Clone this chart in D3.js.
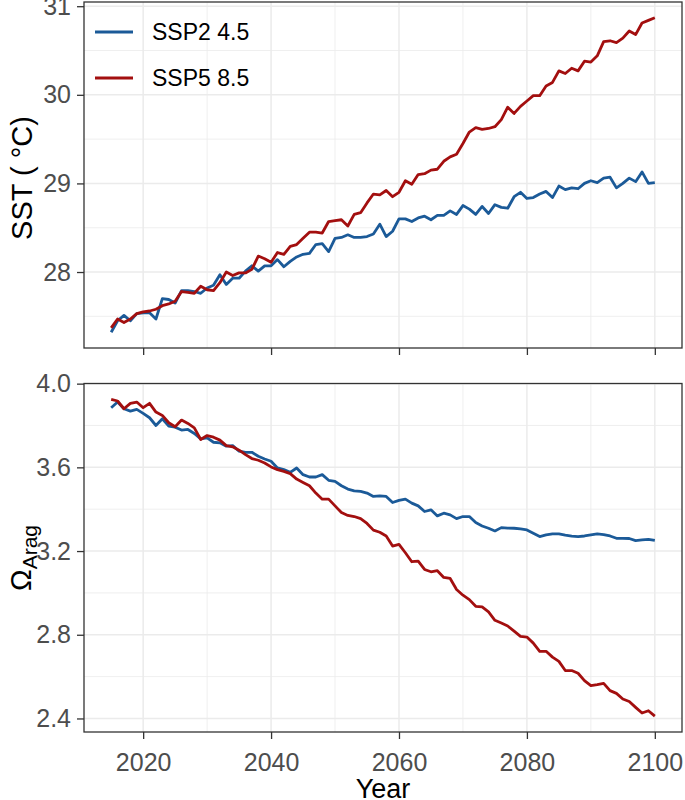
<!DOCTYPE html>
<html>
<head>
<meta charset="utf-8">
<script src="https://cdn.jsdelivr.net/npm/d3@7"></script>
<style>
  body { margin: 0; background: #fff; }
  svg text { font-family: "Liberation Sans", Arial, sans-serif; }
</style>
</head>
<body>
<div class="chart"></div>
<script>
var years = [2015, 2016, 2017, 2018, 2019, 2020, 2021, 2022, 2023, 2024,
  2025, 2026, 2027, 2028, 2029, 2030, 2031, 2032, 2033, 2034,
  2035, 2036, 2037, 2038, 2039, 2040, 2041, 2042, 2043, 2044,
  2045, 2046, 2047, 2048, 2049, 2050, 2051, 2052, 2053, 2054,
  2055, 2056, 2057, 2058, 2059, 2060, 2061, 2062, 2063, 2064,
  2065, 2066, 2067, 2068, 2069, 2070, 2071, 2072, 2073, 2074,
  2075, 2076, 2077, 2078, 2079, 2080, 2081, 2082, 2083, 2084,
  2085, 2086, 2087, 2088, 2089, 2090, 2091, 2092, 2093, 2094,
  2095, 2096, 2097, 2098, 2099, 2100];

var scenarios = ['SSP2 4.5', 'SSP5 8.5'];
var colors = ['#1b5a98', '#a30f0f'];

// sea surface temperature (deg C)
var sstSsp245 = [27.32, 27.45, 27.51, 27.45, 27.53, 27.54, 27.54, 27.47, 27.70, 27.69,
  27.65, 27.79, 27.79, 27.78, 27.76, 27.82, 27.85, 27.97, 27.86, 27.93,
  27.93, 28.01, 28.07, 28.01, 28.07, 28.07, 28.14, 28.06, 28.12, 28.17,
  28.20, 28.21, 28.31, 28.32, 28.23, 28.38, 28.39, 28.42, 28.39, 28.39,
  28.40, 28.43, 28.54, 28.40, 28.46, 28.60, 28.60, 28.57, 28.61, 28.63,
  28.59, 28.64, 28.64, 28.69, 28.65, 28.75, 28.71, 28.65, 28.74, 28.66,
  28.76, 28.73, 28.72, 28.85, 28.90, 28.83, 28.84, 28.88, 28.91, 28.84,
  28.97, 28.93, 28.95, 28.94, 29.00, 29.03, 29.01, 29.06, 29.07, 28.95,
  29.00, 29.06, 29.02, 29.13, 29.00, 29.01];
var sstSsp585 = [27.37, 27.47, 27.43, 27.47, 27.53, 27.55, 27.56, 27.58, 27.62, 27.64,
  27.67, 27.78, 27.77, 27.76, 27.84, 27.80, 27.79, 27.88, 28.00, 27.96,
  27.99, 27.99, 28.03, 28.18, 28.15, 28.11, 28.22, 28.20, 28.29, 28.31,
  28.38, 28.45, 28.45, 28.44, 28.57, 28.58, 28.59, 28.52, 28.65, 28.67,
  28.78, 28.88, 28.87, 28.92, 28.85, 28.90, 29.03, 28.99, 29.10, 29.11,
  29.15, 29.16, 29.25, 29.30, 29.33, 29.45, 29.58, 29.63, 29.61, 29.62,
  29.64, 29.72, 29.86, 29.79, 29.87, 29.93, 29.99, 29.99, 30.10, 30.14,
  30.27, 30.24, 30.30, 30.27, 30.38, 30.37, 30.44, 30.60, 30.61, 30.59,
  30.64, 30.72, 30.68, 30.81, 30.84, 30.87];

// aragonite saturation state
var omegaSsp245 = [3.885, 3.912, 3.880, 3.869, 3.877, 3.858, 3.837, 3.800, 3.832, 3.797,
  3.792, 3.778, 3.781, 3.762, 3.736, 3.741, 3.720, 3.717, 3.701, 3.704,
  3.677, 3.672, 3.672, 3.653, 3.640, 3.629, 3.597, 3.589, 3.576, 3.597,
  3.565, 3.554, 3.554, 3.565, 3.538, 3.533, 3.512, 3.496, 3.488, 3.485,
  3.477, 3.461, 3.464, 3.461, 3.432, 3.442, 3.448, 3.429, 3.416, 3.389,
  3.397, 3.368, 3.381, 3.373, 3.355, 3.365, 3.365, 3.336, 3.320, 3.309,
  3.296, 3.312, 3.310, 3.309, 3.306, 3.301, 3.285, 3.269, 3.277, 3.282,
  3.282, 3.276, 3.271, 3.269, 3.272, 3.277, 3.282, 3.279, 3.272, 3.261,
  3.261, 3.260, 3.250, 3.253, 3.256, 3.251];
var omegaSsp585 = [3.925, 3.917, 3.880, 3.906, 3.912, 3.885, 3.906, 3.864, 3.848, 3.813,
  3.794, 3.826, 3.810, 3.789, 3.733, 3.752, 3.744, 3.730, 3.704, 3.698,
  3.682, 3.661, 3.642, 3.634, 3.621, 3.602, 3.589, 3.581, 3.570, 3.544,
  3.528, 3.512, 3.477, 3.448, 3.448, 3.416, 3.384, 3.370, 3.365, 3.355,
  3.332, 3.300, 3.290, 3.272, 3.224, 3.232, 3.192, 3.149, 3.152, 3.112,
  3.101, 3.106, 3.074, 3.069, 3.016, 2.989, 2.968, 2.936, 2.933, 2.909,
  2.869, 2.856, 2.842, 2.817, 2.792, 2.789, 2.760, 2.721, 2.721, 2.693,
  2.673, 2.629, 2.629, 2.616, 2.581, 2.557, 2.562, 2.568, 2.533, 2.520,
  2.493, 2.481, 2.453, 2.426, 2.437, 2.411];

var xTicks = [2020, 2040, 2060, 2080, 2100];
var sstTicks = [28, 29, 30, 31];
var omegaTicks = [2.4, 2.8, 3.2, 3.6, 4.0];

var W = 685, H = 800;
var left = 84, right = 682;
var tickLen = 7;

var svg = d3.select('.chart')
  .append('svg')
  .attr('width', W)
  .attr('height', H);

// ggplot-style 5% expansion
function expand(ext) {
  var pad = (ext[1] - ext[0]) * 0.05;
  return [ext[0] - pad, ext[1] + pad];
}

var xScale = d3.scaleLinear()
  .domain(expand(d3.extent(years)))
  .range([left, right]);

function midpoints(t) {
  var out = [];
  for (var i = 0; i < t.length - 1; i++) out.push((t[i] + t[i + 1]) / 2);
  return out;
}

function drawPanel(opts) {
  var g = svg.append('g');
  var yScale = d3.scaleLinear()
    .domain(expand(d3.extent(opts.series[0].concat(opts.series[1]))))
    .range([opts.bottom, opts.top]);

  var xStep = xTicks[1] - xTicks[0];
  var xMinor = midpoints([xTicks[0] - xStep].concat(xTicks, [xTicks[xTicks.length - 1] + xStep]))
    .filter(d => d > xScale.domain()[0] && d < xScale.domain()[1]);
  var yStep = opts.ticks[1] - opts.ticks[0];
  var yMinor = midpoints([opts.ticks[0] - yStep].concat(opts.ticks, [opts.ticks[opts.ticks.length - 1] + yStep]))
    .filter(d => d > yScale.domain()[0] && d < yScale.domain()[1]);

  // grid
  var grid = g.append('g').attr('stroke', '#ebebeb').attr('fill', 'none');
  grid.selectAll('.xminor').data(xMinor).enter().append('line')
    .attr('x1', d => xScale(d)).attr('x2', d => xScale(d))
    .attr('y1', opts.top).attr('y2', opts.bottom)
    .attr('stroke-width', 0.8);
  grid.selectAll('.yminor').data(yMinor).enter().append('line')
    .attr('x1', left).attr('x2', right)
    .attr('y1', d => yScale(d)).attr('y2', d => yScale(d))
    .attr('stroke-width', 0.8);
  grid.selectAll('.xmajor').data(xTicks).enter().append('line')
    .attr('x1', d => xScale(d)).attr('x2', d => xScale(d))
    .attr('y1', opts.top).attr('y2', opts.bottom)
    .attr('stroke-width', 1.5);
  grid.selectAll('.ymajor').data(opts.ticks).enter().append('line')
    .attr('x1', left).attr('x2', right)
    .attr('y1', d => yScale(d)).attr('y2', d => yScale(d))
    .attr('stroke-width', 1.5);

  // lines
  var line = d3.line()
    .x((d, i) => xScale(years[i]))
    .y(d => yScale(d));
  g.selectAll('.line')
    .data(opts.series)
    .enter()
    .append('path')
    .attr('class', 'line')
    .attr('d', d => line(d))
    .style('stroke', (d, i) => colors[i])
    .style('stroke-width', 2.8)
    .style('stroke-linejoin', 'round')
    .style('fill', 'none');

  // border
  g.append('rect')
    .attr('x', left).attr('y', opts.top)
    .attr('width', right - left).attr('height', opts.bottom - opts.top)
    .attr('fill', 'none').attr('stroke', '#333').attr('stroke-width', 1.3);

  // axes
  var yAxis = d3.axisLeft(yScale)
    .tickValues(opts.ticks)
    .tickFormat(opts.format)
    .tickSize(tickLen)
    .tickPadding(6);
  var ya = g.append('g')
    .attr('transform', `translate(${left}, 0)`)
    .call(yAxis);

  var xAxis = d3.axisBottom(xScale)
    .tickValues(xTicks)
    .tickFormat(opts.showX ? d3.format('d') : '')
    .tickSize(tickLen)
    .tickPadding(14);
  var xa = g.append('g')
    .attr('transform', `translate(0, ${opts.bottom})`)
    .call(xAxis);

  [ya, xa].forEach(a => {
    a.select('.domain').remove();
    a.selectAll('.tick line').attr('stroke', '#333').attr('stroke-width', 1.3);
    a.selectAll('.tick text')
      .attr('fill', '#4d4d4d')
      .style('font-size', '25px');
  });
  return yScale;
}

drawPanel({
  top: 2, bottom: 348,
  series: [sstSsp245, sstSsp585],
  ticks: sstTicks,
  format: d3.format('d'),
  showX: false
});

drawPanel({
  top: 383.5, bottom: 732,
  series: [omegaSsp245, omegaSsp585],
  ticks: omegaTicks,
  format: d3.format('.1f'),
  showX: true
});

// axis titles
svg.append('text')
  .attr('transform', 'translate(32, 178) rotate(-90)')
  .attr('text-anchor', 'middle')
  .style('font-size', '29px')
  .text('SST ( \u00b0C)');

var om = svg.append('text')
  .attr('transform', 'translate(31, 558) rotate(-90)')
  .attr('text-anchor', 'middle')
  .style('font-size', '29px');
om.append('tspan').text('\u03a9');
om.append('tspan')
  .attr('dy', '0.3em')
  .style('font-size', '21px')
  .text('Arag');

svg.append('text')
  .attr('x', (left + right) / 2)
  .attr('y', 798)
  .attr('text-anchor', 'middle')
  .style('font-size', '27px')
  .text('Year');

// legend
var legend = svg.selectAll('.legend')
  .data(scenarios)
  .enter()
  .append('g')
  .attr('class', 'legend')
  .attr('transform', (d, i) => `translate(95, ${32 + i * 46})`);
legend.append('line')
  .attr('x1', 0).attr('x2', 38)
  .attr('stroke', (d, i) => colors[i])
  .attr('stroke-width', 2.8);
legend.append('text')
  .attr('x', 57)
  .attr('dy', '0.35em')
  .style('font-size', '23px')
  .text(d => d);
</script>
</body>
</html>
